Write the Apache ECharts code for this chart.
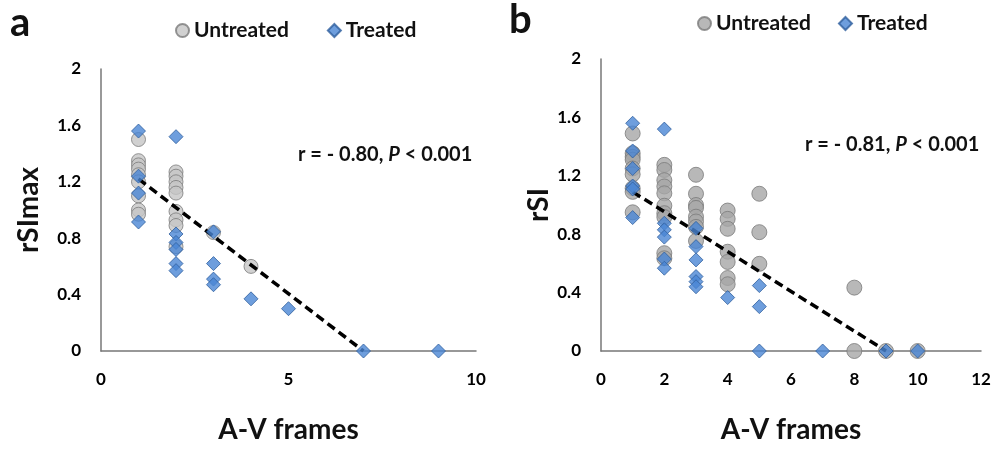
<!DOCTYPE html>
<html>
<head>
<meta charset="utf-8">
<script src="https://cdn.jsdelivr.net/npm/echarts@6/dist/echarts.min.js"></script>
<style>
html, body { margin: 0; padding: 0; background: #fff; }
#chart { width: 1006px; height: 449px; }
</style>
</head>
<body>
<div id="chart"></div>
<script>
// panel a: rSImax vs A-V frames
var untreatedA = [
    [1, 1.5], [1, 1.35], [1, 1.32], [1, 1.29], [1, 1.25], [1, 1.2], [1, 1.1], [1, 1.0], [1, 0.97],
    [2, 1.27], [2, 1.24], [2, 1.2], [2, 1.16], [2, 1.12], [2, 0.99], [2, 0.93], [2, 0.89], [2, 0.74],
    [3, 0.84], [4, 0.6]
];
var treatedA = [
    [1, 1.56], [1, 1.24], [1, 1.12], [1, 0.915],
    [2, 1.52], [2, 0.83], [2, 0.77], [2, 0.72], [2, 0.62], [2, 0.57],
    [3, 0.845], [3, 0.62], [3, 0.51], [3, 0.47],
    [4, 0.37], [5, 0.3], [7, 0], [9, 0]
];
var trendA = [[1, 1.22], [7, 0]];

// panel b: rSI vs A-V frames
var untreatedB = [
    [1, 1.49], [1, 1.355], [1, 1.33], [1, 1.31], [1, 1.25], [1, 1.21], [1, 1.115], [1, 1.09], [1, 0.95],
    [2, 1.275], [2, 1.24], [2, 1.17], [2, 1.127], [2, 1.08], [2, 0.995], [2, 0.944], [2, 0.917], [2, 0.67], [2, 0.635],
    [3, 1.207], [3, 1.077], [3, 1.0], [3, 0.98], [3, 0.92], [3, 0.887], [3, 0.85], [3, 0.754],
    [4, 0.962], [4, 0.905], [4, 0.837], [4, 0.68], [4, 0.61], [4, 0.5], [4, 0.457],
    [5, 1.077], [5, 0.814], [5, 0.597],
    [8, 0.434], [8, 0], [9, 0], [10, 0]
];
var treatedB = [
    [1, 1.56], [1, 1.37], [1, 1.25], [1, 1.13], [1, 1.11], [1, 0.914],
    [2, 1.52], [2, 0.875], [2, 0.83], [2, 0.78], [2, 0.63], [2, 0.567],
    [3, 0.84], [3, 0.715], [3, 0.624], [3, 0.51], [3, 0.475], [3, 0.44],
    [4, 0.366], [5, 0.448], [5, 0.304], [5, 0], [7, 0], [9, 0], [10, 0]
];
var trendB = [[1, 1.09], [9, 0]];

var FONT = 'Lato, "Open Sans", sans-serif';
var chart = echarts.init(document.getElementById('chart'));

// bold tick labels through rich text
var tickLabel = {
    margin: 20,
    formatter: '{t|{value}}',
    rich: { t: { fontFamily: FONT, fontWeight: 'bold', fontSize: 17, color: '#000' } }
};

function xAx(idx, max, interval) {
    return {
        gridIndex: idx, type: 'value', min: 0, max: max, interval: interval,
        name: 'A-V frames', nameLocation: 'middle', nameGap: 65,
        nameTextStyle: { fontFamily: FONT, fontWeight: 'bold', fontSize: 28, color: '#111' },
        axisLine: { lineStyle: { color: '#777', width: 1.5 } },
        axisTick: { show: false },
        splitLine: { show: false },
        axisLabel: tickLabel
    };
}
function yAx(idx, name, gap) {
    return {
        gridIndex: idx, type: 'value', min: 0, max: 2, interval: 0.4,
        name: name, nameLocation: 'middle', nameGap: gap, nameRotate: 90,
        nameTextStyle: { fontFamily: FONT, fontWeight: 'bold', fontSize: 28, color: '#111' },
        axisLine: { show: true, lineStyle: { color: '#777', width: 1.5 } },
        axisTick: { show: false },
        splitLine: { show: false },
        axisLabel: tickLabel
    };
}
function legendFor(left, top, gap, u, t) {
    return {
        left: left, top: top, itemWidth: 13, itemHeight: 13, itemGap: gap,
        textStyle: { fontFamily: FONT, fontWeight: 'bold', fontSize: 21, color: '#111' },
        data: [{ name: u, icon: 'circle' }, { name: t, icon: 'diamond' }]
    };
}
var circleStyle = function (fill) {
    return { color: fill, borderColor: '#7a7a7a', borderWidth: 1 };
};
var diamondStyle = { color: '#4a86d4', borderColor: '#2f5f9e', borderWidth: 1 };
var trendStyle = { color: '#000', width: 3.5, type: [9, 5] };
var annoRich = {
    n: { fontFamily: FONT, fontWeight: 'bold', fontSize: 20, fill: '#111' },
    i: { fontFamily: FONT, fontWeight: 'bold', fontStyle: 'italic', fontSize: 20, fill: '#111' }
};

chart.setOption({
    animation: false,
    grid: [
        { left: 101, top: 69, width: 375, height: 283 },
        { left: 601, top: 59, width: 380, height: 292 }
    ],
    xAxis: [xAx(0, 10, 5), xAx(1, 12, 2)],
    yAxis: [yAx(0, 'rSImax', 58), yAx(1, 'rSI', 32)],
    legend: [
        legendFor(170, 15, 38, 'Untreated', 'Treated'),
        legendFor(692, 8, 22, 'Untreated ', 'Treated ')
    ],
    series: [
        { name: 'Untreated', type: 'scatter', xAxisIndex: 0, yAxisIndex: 0, symbol: 'circle', symbolSize: 14,
          itemStyle: circleStyle('#c6c6c6'), data: untreatedA, z: 2 },
        { name: 'trendA', type: 'line', xAxisIndex: 0, yAxisIndex: 0, symbol: 'none',
          lineStyle: trendStyle, data: trendA, z: 3 },
        { name: 'Treated', type: 'scatter', xAxisIndex: 0, yAxisIndex: 0, symbol: 'diamond', symbolSize: 14,
          itemStyle: diamondStyle, data: treatedA, z: 4 },
        { name: 'Untreated ', type: 'scatter', xAxisIndex: 1, yAxisIndex: 1, symbol: 'circle', symbolSize: 15,
          itemStyle: circleStyle('#a6a6a6'), data: untreatedB, z: 2 },
        { name: 'trendB', type: 'line', xAxisIndex: 1, yAxisIndex: 1, symbol: 'none',
          lineStyle: trendStyle, data: trendB, z: 3 },
        { name: 'Treated ', type: 'scatter', xAxisIndex: 1, yAxisIndex: 1, symbol: 'diamond', symbolSize: 14,
          itemStyle: diamondStyle, data: treatedB, z: 4 }
    ],
    graphic: [
        { type: 'text', left: 10, top: 3, style: { text: 'a', font: 'bold 40px ' + FONT, fill: '#111' } },
        { type: 'text', left: 509, top: 0, style: { text: 'b', font: 'bold 40px ' + FONT, fill: '#111' } },
        { type: 'text', left: 298, top: 145, style: { text: '{n|r = - 0.80, }{i|P}{n| < 0.001}', rich: annoRich } },
        { type: 'text', left: 805, top: 135, style: { text: '{n|r = - 0.81, }{i|P}{n| < 0.001}', rich: annoRich } }
    ]
});
</script>
</body>
</html>
